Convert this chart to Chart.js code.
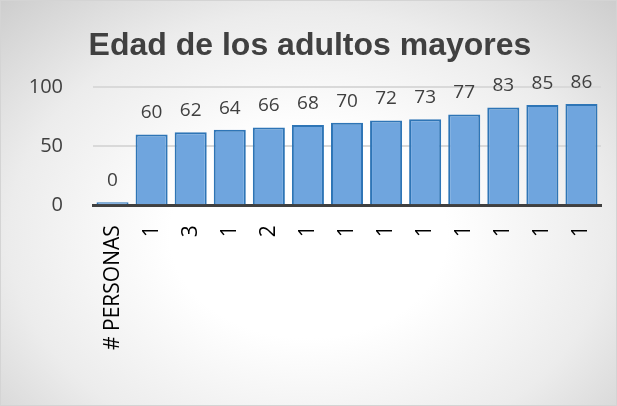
<!DOCTYPE html>
<html>
<head>
<meta charset="utf-8">
<script src="https://cdn.jsdelivr.net/npm/chart.js@4.4.0/dist/chart.umd.min.js"></script>
<style>
  html, body { margin: 0; padding: 0; }
  #wrap {
    width: 617px;
    height: 406px;
    box-sizing: border-box;
    border: 1px solid #d4d4d4;
    background: radial-gradient(ellipse 75% 85% at 50% 58%, #ffffff 30%, #ececec 65%, #c9c9c9 100%);
  }
</style>
</head>
<body>
<div id="wrap"><canvas id="chart" width="615" height="404"></canvas></div>
<script>
const titleText = 'Edad de los adultos mayores';
const categories = ['# PERSONAS', '1', '3', '1', '2', '1', '1', '1', '1', '1', '1', '1', '1'];
const ages = [0, 60, 62, 64, 66, 68, 70, 72, 73, 77, 83, 85, 86];
const yTicks = [0, 50, 100];

// draws the value above each bar (no datalabels plugin available)
const valueLabels = {
    id: 'valueLabels',
    afterDatasetsDraw(chart) {
        const ctx = chart.ctx;
        const meta = chart.getDatasetMeta(0);
        ctx.save();
        ctx.font = '19px "Open Sans"';
        ctx.fillStyle = '#404040';
        ctx.textAlign = 'center';
        ctx.textBaseline = 'bottom';
        meta.data.forEach((bar, i) => {
            ctx.fillText(String(ages[i]), bar.x, bar.y - 12);
        });
        ctx.restore();
    }
};

// light stripe across each bar, like the excel column shading
function barFill(c) {
    const bar = c.element;
    if (!bar || !bar.width) return '#6fa5de';
    const x0 = bar.x - bar.width / 2;
    const g = c.chart.ctx.createLinearGradient(x0, 0, x0 + bar.width, 0);
    g.addColorStop(0, '#5f98d6');
    g.addColorStop(0.35, '#7db2e8');
    g.addColorStop(0.75, '#6aa2de');
    g.addColorStop(1, '#4f88c8');
    return g;
}

const ctx = document.getElementById('chart').getContext('2d');
const chart = new Chart(ctx, {
    type: 'bar',
    data: {
        labels: categories,
        datasets: [{
            data: ages,
            backgroundColor: barFill,
            borderColor: '#2e75b6',
            borderWidth: 2,
            borderSkipped: 'bottom',
            categoryPercentage: 0.82,
            barPercentage: 1,
            minBarLength: 3
        }]
    },
    options: {
        responsive: false,
        animation: false,
        layout: { padding: { left: 18, right: 15, top: 26, bottom: 35 } },
        plugins: {
            legend: { display: false },
            tooltip: { enabled: false },
            title: {
                display: true,
                text: titleText,
                color: '#404040',
                font: { family: '"Liberation Sans", Arial', size: 32, weight: 'bold' },
                padding: { top: 0, bottom: 22 }
            }
        },
        scales: {
            x: {
                afterFit(scale) {
                    // rotated labels would otherwise push the plot area inward
                    scale.paddingLeft = 0;
                    scale.paddingRight = 0;
                },
                grid: { display: false, drawTicks: false },
                border: { display: true, color: '#404040', width: 3 },
                ticks: {
                    color: '#000000',
                    font: { family: '"Open Sans"', size: 21 },
                    maxRotation: 90,
                    minRotation: 90,
                    padding: 20,
                    autoSkip: false
                }
            },
            y: {
                min: 0,
                max: 100,
                afterBuildTicks(scale) {
                    scale.ticks = yTicks.map(v => ({ value: v }));
                },
                afterFit(scale) {
                    scale.width = 74;
                },
                grid: {
                    color: (c) => c.tick && c.tick.value === 0 ? 'rgba(0,0,0,0)' : '#d9d9d9',
                    lineWidth: 2,
                    drawTicks: false
                },
                border: { display: false },
                ticks: {
                    color: '#404040',
                    font: { family: '"Open Sans"', size: 20 },
                    padding: 30
                }
            }
        }
    },
    plugins: [valueLabels]
});
</script>
</body>
</html>
